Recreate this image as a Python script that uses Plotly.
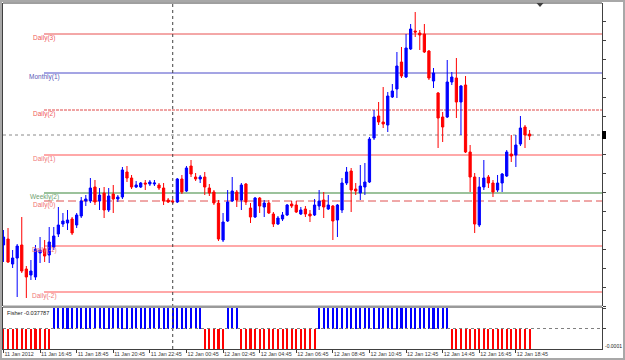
import pandas as pd
import plotly.graph_objects as go

# ---------------- data (EURUSD M15, 11-12 Jan 2012) ----------------
times = pd.date_range("2012-01-11 14:45", periods=116, freq="15min")

open_ = [
    1.2655, 1.2661, 1.2636, 1.2642, 1.2655, 1.2631, 1.2625, 1.2623, 1.2647, 1.2651,
    1.2645, 1.2653, 1.2666, 1.2676, 1.2677, 1.2681, 1.2675, 1.2684, 1.2699, 1.2699,
    1.2713, 1.2699, 1.2707, 1.2690, 1.2706, 1.2701, 1.2703, 1.2728, 1.2722, 1.2713,
    1.2713, 1.2717, 1.2716, 1.2716, 1.2715, 1.2712, 1.2700, 1.2699, 1.2698, 1.2721,
    1.2709, 1.2734, 1.2723, 1.2721, 1.2723, 1.2712, 1.2708, 1.2697, 1.2660, 1.2679,
    1.2699, 1.2708, 1.2700, 1.2716, 1.2692, 1.2683, 1.2702, 1.2693, 1.2697, 1.2686,
    1.2676, 1.2681, 1.2685, 1.2696, 1.2695, 1.2686, 1.2691, 1.2686, 1.2685, 1.2694,
    1.2700, 1.2691, 1.2694, 1.2680, 1.2690, 1.2717, 1.2729, 1.2711, 1.2707, 1.2713,
    1.2718, 1.2762, 1.2784, 1.2778, 1.2775, 1.2803, 1.2811, 1.2838, 1.2823, 1.2851,
    1.2869, 1.2867, 1.2866, 1.2849, 1.2819, 1.2807, 1.2783, 1.2783, 1.2818, 1.2822,
    1.2798, 1.2815, 1.2748, 1.2723, 1.2675, 1.2713, 1.2723, 1.2717, 1.2710, 1.2717,
    1.2724, 1.2746, 1.2745, 1.2756, 1.2773, 1.2766]
high = [
    1.2670, 1.2672, 1.2650, 1.2656, 1.2683, 1.2634, 1.2640, 1.2655, 1.2663, 1.2660,
    1.2673, 1.2673, 1.2693, 1.2687, 1.2690, 1.2683, 1.2687, 1.2703, 1.2705, 1.2722,
    1.2720, 1.2712, 1.2713, 1.2712, 1.2715, 1.2705, 1.2733, 1.2734, 1.2725, 1.2719,
    1.2718, 1.2720, 1.2720, 1.2720, 1.2717, 1.2717, 1.2702, 1.2701, 1.2722, 1.2725,
    1.2734, 1.2740, 1.2727, 1.2725, 1.2728, 1.2716, 1.2710, 1.2700, 1.2687, 1.2710,
    1.2723, 1.2710, 1.2717, 1.2717, 1.2697, 1.2703, 1.2703, 1.2700, 1.2700, 1.2688,
    1.2684, 1.2688, 1.2696, 1.2699, 1.2699, 1.2693, 1.2694, 1.2690, 1.2701, 1.2710,
    1.2708, 1.2705, 1.2695, 1.2696, 1.2722, 1.2733, 1.2732, 1.2717, 1.2735, 1.2737,
    1.2763, 1.2790, 1.2798, 1.2813, 1.2808, 1.2816, 1.2848, 1.2853, 1.2866, 1.2876,
    1.2888, 1.2870, 1.2876, 1.2850, 1.2832, 1.2808, 1.2788, 1.2840, 1.2828, 1.2842,
    1.2815, 1.2824, 1.2755, 1.2727, 1.2723, 1.2740, 1.2725, 1.2720, 1.2725, 1.2727,
    1.2750, 1.2765, 1.2765, 1.2784, 1.2775, 1.2770]
low = [
    1.2638, 1.2637, 1.2632, 1.2603, 1.2627, 1.2602, 1.2620, 1.2620, 1.2637, 1.2638,
    1.2637, 1.2650, 1.2663, 1.2673, 1.2670, 1.2665, 1.2672, 1.2682, 1.2694, 1.2697,
    1.2695, 1.2690, 1.2682, 1.2688, 1.2687, 1.2698, 1.2701, 1.2718, 1.2711, 1.2712,
    1.2712, 1.2710, 1.2714, 1.2714, 1.2710, 1.2695, 1.2697, 1.2696, 1.2697, 1.2706,
    1.2708, 1.2723, 1.2719, 1.2717, 1.2705, 1.2704, 1.2695, 1.2659, 1.2658, 1.2678,
    1.2698, 1.2693, 1.2690, 1.2695, 1.2677, 1.2682, 1.2687, 1.2683, 1.2686, 1.2673,
    1.2675, 1.2679, 1.2684, 1.2692, 1.2687, 1.2685, 1.2683, 1.2678, 1.2684, 1.2690,
    1.2682, 1.2690, 1.2660, 1.2663, 1.2687, 1.2715, 1.2688, 1.2705, 1.2700, 1.2705,
    1.2717, 1.2760, 1.2775, 1.2772, 1.2768, 1.2802, 1.2802, 1.2822, 1.2822, 1.2850,
    1.2863, 1.2850, 1.2847, 1.2820, 1.2812, 1.2752, 1.2758, 1.2782, 1.2815, 1.2782,
    1.2765, 1.2747, 1.2708, 1.2667, 1.2673, 1.2710, 1.2712, 1.2703, 1.2708, 1.2708,
    1.2723, 1.2738, 1.2733, 1.2754, 1.2752, 1.2760]
close = [
    1.2663, 1.2638, 1.2642, 1.2654, 1.2629, 1.2623, 1.2629, 1.2651, 1.2650, 1.2644,
    1.2658, 1.2664, 1.2675, 1.2679, 1.2680, 1.2667, 1.2685, 1.2699, 1.2701, 1.2712,
    1.2698, 1.2705, 1.2690, 1.2704, 1.2701, 1.2703, 1.2730, 1.2722, 1.2713, 1.2715,
    1.2717, 1.2716, 1.2718, 1.2717, 1.2712, 1.2699, 1.2698, 1.2698, 1.2721, 1.2708,
    1.2732, 1.2726, 1.2721, 1.2723, 1.2713, 1.2707, 1.2697, 1.2661, 1.2678, 1.2698,
    1.2709, 1.2700, 1.2715, 1.2698, 1.2683, 1.2702, 1.2694, 1.2697, 1.2687, 1.2676,
    1.2682, 1.2685, 1.2695, 1.2694, 1.2688, 1.2690, 1.2686, 1.2684, 1.2695, 1.2699,
    1.2693, 1.2695, 1.2679, 1.2695, 1.2717, 1.2728, 1.2710, 1.2709, 1.2714, 1.2718,
    1.2761, 1.2783, 1.2778, 1.2776, 1.2804, 1.2809, 1.2834, 1.2824, 1.2852, 1.2871,
    1.2868, 1.2865, 1.2848, 1.2822, 1.2827, 1.2782, 1.2773, 1.2818, 1.2823, 1.2798,
    1.2814, 1.2748, 1.2723, 1.2676, 1.2713, 1.2722, 1.2717, 1.2708, 1.2717, 1.2726,
    1.2748, 1.2744, 1.2755, 1.2772, 1.2765, 1.2764]

fisher = [
    -0.62, -0.71, -0.80, -0.74, -0.66, -0.58, -0.47, -0.33, -0.21, -0.12, -0.04,
    0.05, 0.14, 0.25, 0.36, 0.44, 0.55, 0.66, 0.78, 0.86, 0.93, 0.97, 1.02, 1.05,
    1.08, 1.12, 1.18, 1.21, 1.20, 1.16, 1.10, 1.03, 0.95, 0.86, 0.77, 0.70, 0.66,
    0.61, 0.55, 0.50, 0.41, 0.33, 0.22, 0.10,
    -0.03, -0.12, -0.24, -0.35, -0.28,
    0.04, 0.11, 0.06,
    -0.05, -0.13, -0.22, -0.30, -0.37, -0.45, -0.52, -0.60, -0.66, -0.71, -0.68,
    -0.62, -0.55, -0.47, -0.38, -0.27, -0.12,
    0.03, 0.12, 0.21, 0.30, 0.41, 0.55, 0.68, 0.82, 0.95, 1.08, 1.22, 1.37, 1.52,
    1.66, 1.79, 1.90, 1.98, 2.05, 2.08, 2.04, 1.96, 1.84, 1.70, 1.52, 1.33, 1.10,
    0.84, 0.55, 0.24,
    -0.08, -0.21, -0.34, -0.48, -0.63, -0.77, -0.86, -0.92, -0.94, -0.90, -0.82,
    -0.71, -0.58, -0.44, -0.31, -0.19, -0.09, -0.037787]

level_names = ["Daily(3)", "Monthly(1)", "Daily(2)", "Daily(1)",
               "Weekly(2)", "Daily(0)", "Daily(-1)", "Daily(-2)"]
level_values = [1.2866, 1.2827, 1.2790, 1.2745, 1.2707, 1.2699, 1.2654, 1.2608]
bid_price = 1.2765
fisher_label = "Fisher -0.037787"
scale_label = "-0.0001"
tick_every = 8  # one label every 2 hours (8 bars)

assert len(open_) == len(high) == len(low) == len(close) == len(fisher) == len(times)

# ---------------- styles ----------------
level_style = {
    "Daily(3)": dict(color="#e85050", dash="solid", width=1, text="#f05a5a"),
    "Monthly(1)": dict(color="#4a4ac8", dash="solid", width=1, text="#5a5ab8"),
    "Daily(2)": dict(color="#e04848", dash="3px,1px", width=1, text="#f05a5a"),
    "Daily(1)": dict(color="#ffa8a8", dash="solid", width=2, text="#f07878"),
    "Weekly(2)": dict(color="#7aae7a", dash="solid", width=1.5, text="#6f9f6f"),
    "Daily(0)": dict(color="#e05050", dash="8px,4px", width=1, text="#f07070"),
    "Daily(-1)": dict(color="#ffa8a8", dash="solid", width=2, text="#f07878"),
    "Daily(-2)": dict(color="#ffa8a8", dash="solid", width=2, text="#f07878"),
}

W, H = 625, 360
L, R, T, B = 3, 602, 3, 349          # plot area in pixels


def px_x(px):
    return (px - L) / (R - L)


def px_y(py):
    return (B - py) / (B - T)


idx = list(range(len(times)))
xmin = -0.1
xmax = xmin + (R - L) / 4.575

tickvals = idx[::tick_every]
ticktext = [times[0].strftime("%d %b %Y")] + [t.strftime("%d %b %H:%M") for t in times[::tick_every][1:]]

fig = go.Figure()

fig.add_trace(go.Candlestick(
    x=idx, open=open_, high=high, low=low, close=close,
    increasing=dict(line=dict(color="#0000ff", width=1), fillcolor="#0000ff"),
    decreasing=dict(line=dict(color="#ff0000", width=1), fillcolor="#ff0000"),
    whiskerwidth=0, xaxis="x", yaxis="y", showlegend=False, hoverinfo="skip",
))

fig.add_trace(go.Bar(
    x=idx, y=fisher, width=0.45,
    marker=dict(color=["#0000ff" if v > 0 else "#ff0000" for v in fisher], line=dict(width=0)),
    xaxis="x", yaxis="y2", showlegend=False, hoverinfo="skip",
))

shapes = []
annotations = []

# pivot levels
line_start = (44 - L) / 4.575 + xmin
for name, val in zip(level_names, level_values):
    st = level_style[name]
    shapes.append(dict(type="line", xref="x", yref="y", x0=line_start, x1=xmax,
                       y0=val, y1=val, layer="below",
                       line=dict(color=st["color"], width=st["width"], dash=st["dash"])))
    annotations.append(dict(x=line_start, y=val, xref="x", yref="y", text=name,
                            showarrow=False, xanchor="center", yanchor="middle",
                            yshift=-4, font=dict(size=6.5, color=st["text"],
                                                  family="Liberation Sans")))

# bid line
shapes.append(dict(type="line", xref="paper", yref="y", x0=0, x1=1, y0=bid_price, y1=bid_price,
                   layer="below", line=dict(color="#8a8a8a", width=1, dash="dot")))
# bid marker on the price scale
shapes.append(dict(type="rect", xref="paper", yref="y", x0=1, x1=px_x(606),
                   y0=bid_price - 0.0004, y1=bid_price + 0.0004,
                   fillcolor="#000000", line=dict(width=0)))

# day separator
shapes.append(dict(type="line", xref="x", yref="paper", x0=37, x1=37, y0=0, y1=1,
                   line=dict(color="#404040", width=1, dash="dot")))

# indicator zero line
shapes.append(dict(type="line", xref="paper", yref="y2", x0=0, x1=1, y0=0, y1=0,
                   line=dict(color="#808080", width=1, dash="dot")))

# panel separator
shapes.append(dict(type="rect", xref="paper", yref="paper", x0=0, x1=1,
                   y0=px_y(308), y1=px_y(305.5), fillcolor="#9a9a9a", line=dict(width=0)))
# top border
shapes.append(dict(type="line", xref="paper", yref="paper", x0=0, x1=1, y0=1, y1=1,
                   line=dict(color="#404040", width=1)))
# outer window frame
shapes.append(dict(type="rect", xref="paper", yref="paper",
                   x0=px_x(1), x1=px_x(624), y0=px_y(359), y1=px_y(1),
                   line=dict(color="#a8a8a8", width=2)))
# chart-shift marker
shapes.append(dict(type="path", xref="paper", yref="paper",
                   path=f"M {px_x(536.5)},{px_y(3)} L {px_x(543.5)},{px_y(3)} L {px_x(540)},{px_y(7)} Z",
                   fillcolor="#404040", line=dict(width=0)))

annotations.append(dict(x=px_x(5), y=px_y(313), xref="paper", yref="paper", text=fisher_label,
                        showarrow=False, xanchor="left", yanchor="middle",
                        font=dict(size=5.6, color="#202020", family="Liberation Sans")))
annotations.append(dict(x=px_x(603.5), y=px_y(346), xref="paper", yref="paper", text=scale_label,
                        showarrow=False, xanchor="left", yanchor="middle", borderpad=0,
                        font=dict(size=5.0, color="#202020", family="Liberation Sans")))

fig.update_layout(
    width=W, height=H,
    margin=dict(l=L, r=W - R, t=T, b=H - B, pad=0, autoexpand=False),
    paper_bgcolor="#ffffff", plot_bgcolor="#ffffff",
    showlegend=False, bargap=0,
    shapes=shapes, annotations=annotations,
    font=dict(family="Liberation Sans", size=5.4, color="#303030"),
    xaxis=dict(
        range=[xmin, xmax], anchor="y2", tickmode="array", tickvals=tickvals, ticktext=ticktext,
        ticks="outside", ticklen=3, tickcolor="#404040", tickfont=dict(size=5.4, color="#383838"),
        ticklabelposition="outside right", tickangle=0, automargin=False,
        showline=True, linecolor="#404040", mirror=True,
        showgrid=False, zeroline=False, rangeslider=dict(visible=False),
    ),
    yaxis=dict(
        domain=[px_y(306), 1], range=[1.29 - 306 / 10000, 1.29 - 3 / 10000], side="right",
        anchor="x", showgrid=False, zeroline=False, showline=True, linecolor="#404040",
        mirror=True, ticks="outside", ticklen=3, tickcolor="#404040", tick0=1.2803,
        dtick=0.0019, showticklabels=False, automargin=False,
    ),
    yaxis2=dict(
        domain=[0, px_y(308)], range=[-0.0001, 0.0001], side="right", anchor="x",
        showgrid=False, zeroline=False, showline=True, linecolor="#404040", mirror=True,
        ticks="outside", ticklen=3, tickcolor="#404040", tickmode="array",
        tickvals=[0, 0.0001], showticklabels=False, automargin=False,
    ),
)

fig.write_html("out.html")
